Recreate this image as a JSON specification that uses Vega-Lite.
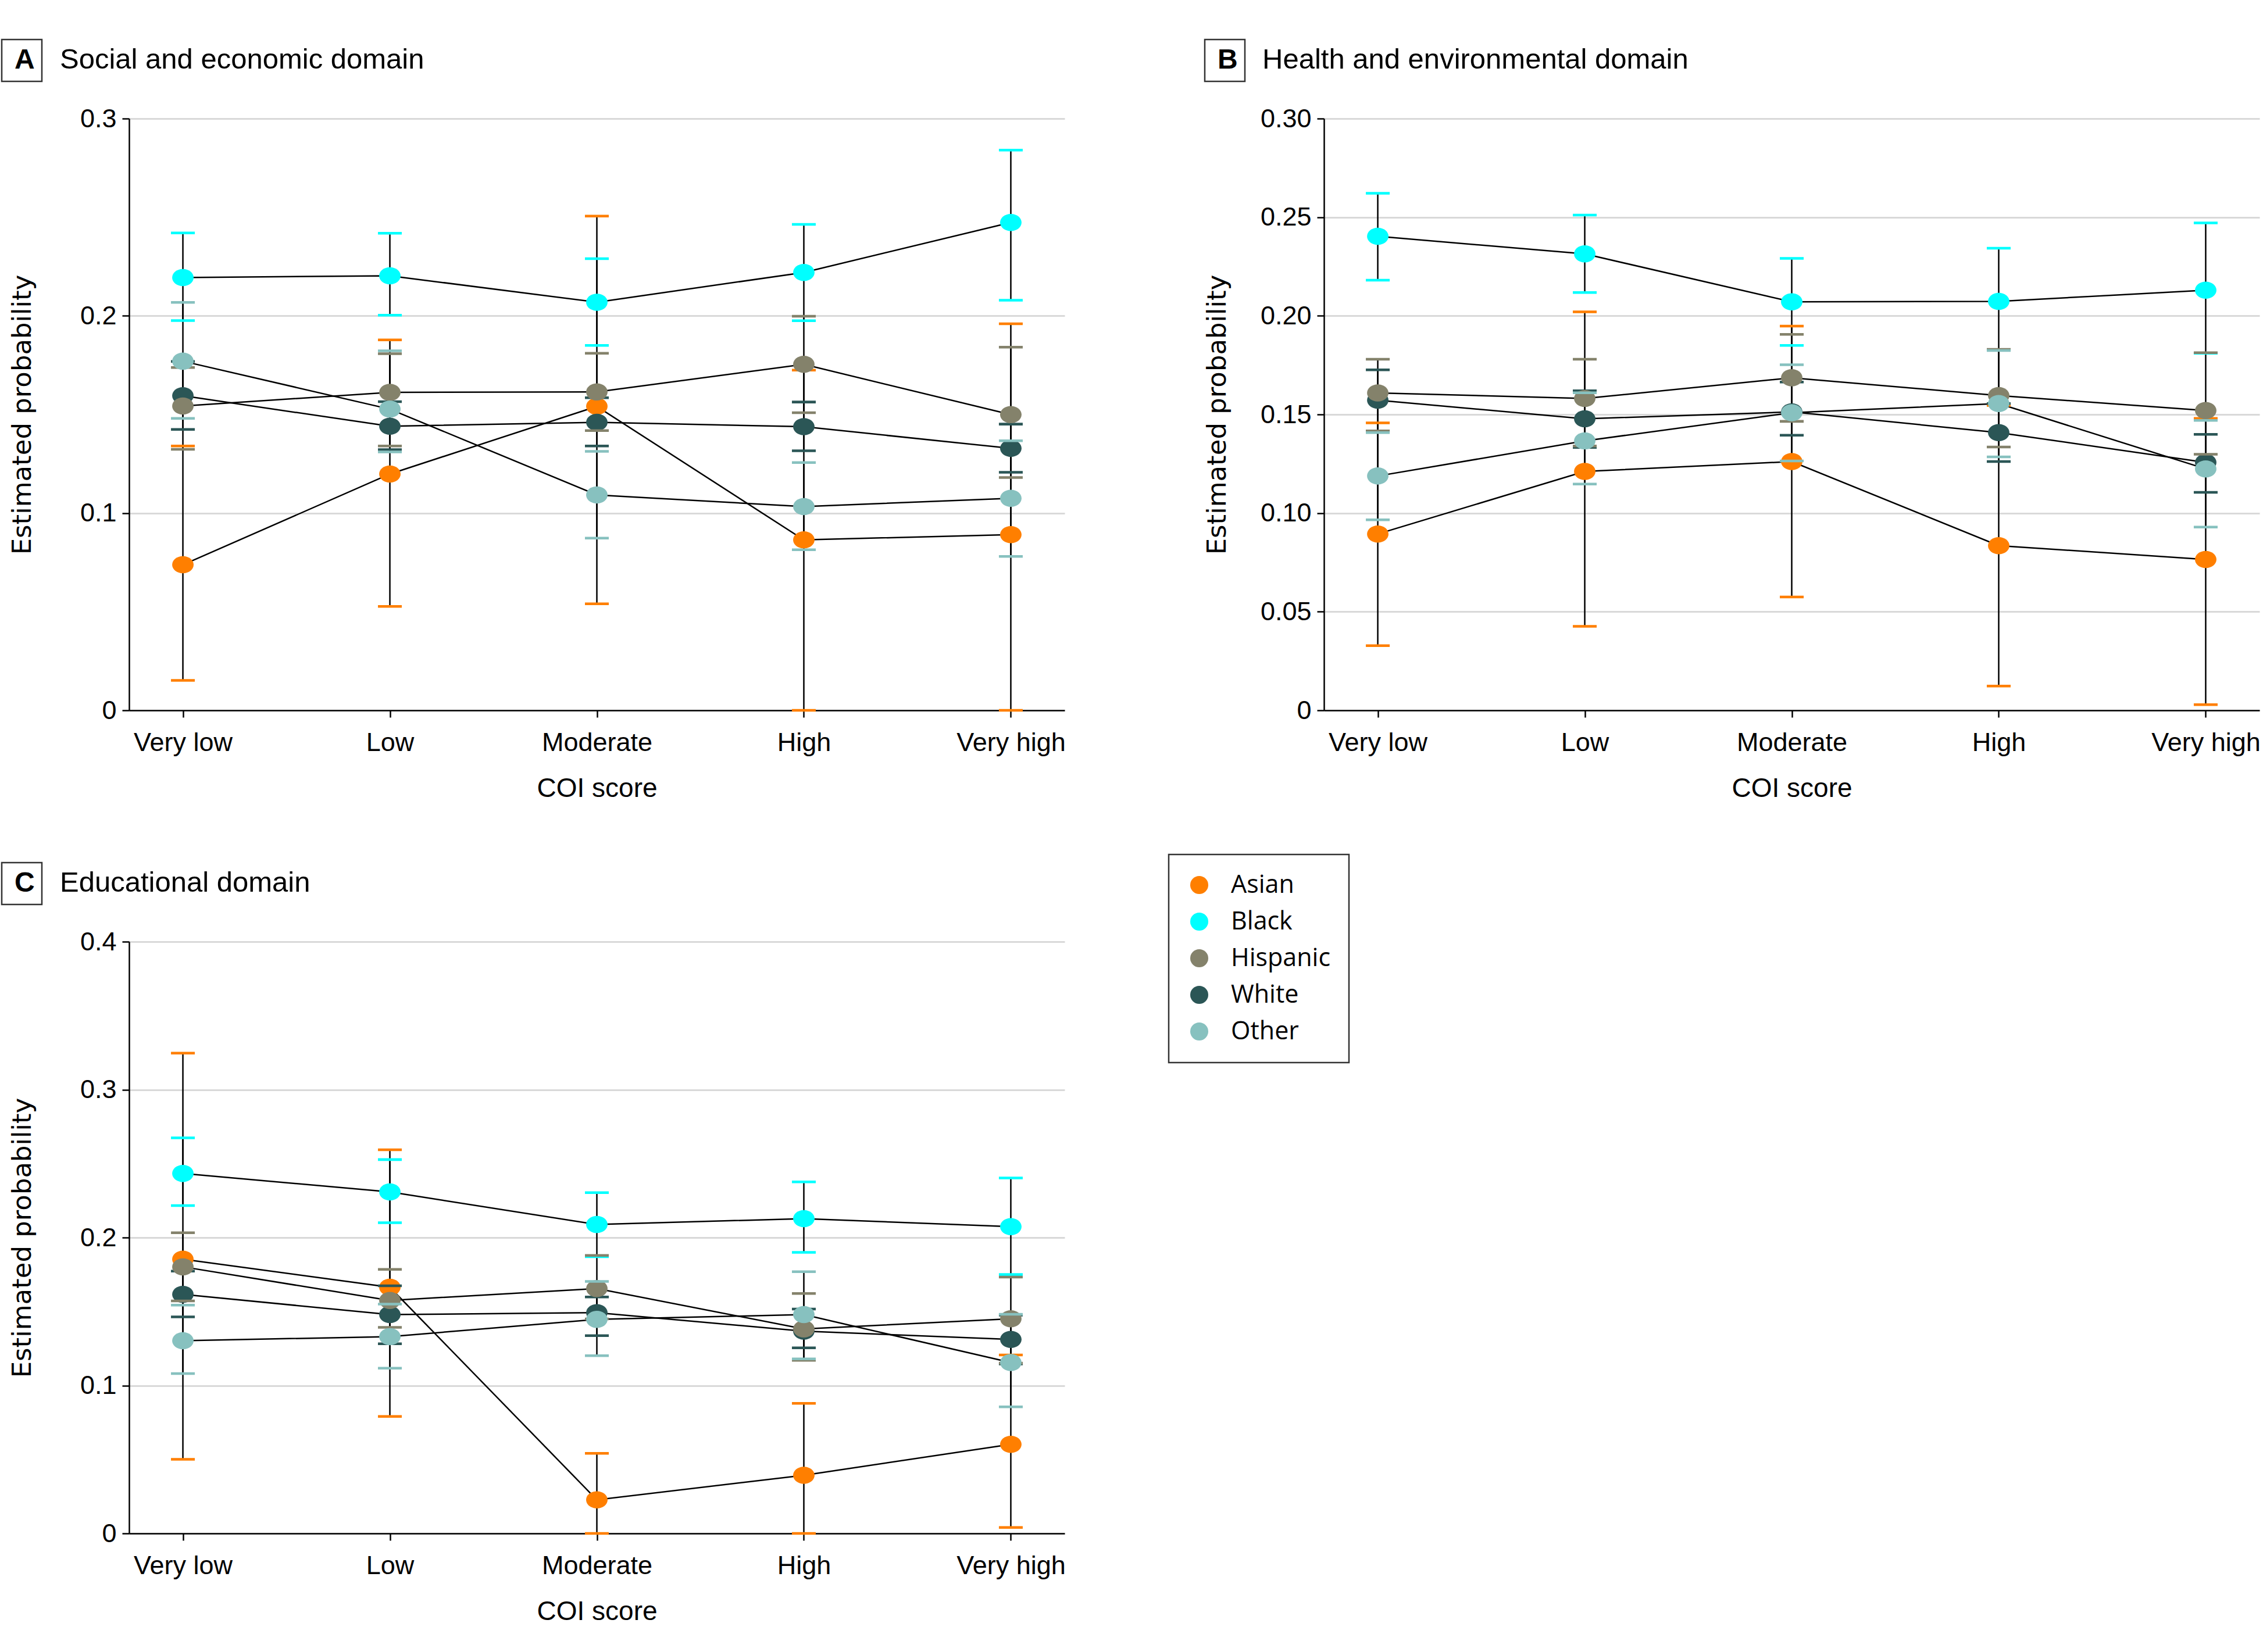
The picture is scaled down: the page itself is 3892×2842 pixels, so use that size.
{
  "$schema": "https://vega.github.io/schema/vega-lite/v6.json",
  "background": "white",
  "padding": {"left": 1, "top": 66, "right": 5, "bottom": 5},
  "config": {
    "font": "Liberation Sans, Arial, sans-serif",
    "view": {"stroke": null},
    "axis": {"labelFont": "Liberation Sans", "titleFont": "Liberation Sans", "labelLimit": 0, "domainColor": "#000", "domainWidth": 2.5, "tickColor": "#000", "tickWidth": 2.5, "tickSize": 12, "labelFontSize": 45, "labelColor": "#000", "titleColor": "#000", "titleFontWeight": "normal", "gridColor": "#d9d9d9", "gridWidth": 3, "zindex": 0},
    "axisX": {"grid": false, "labelAngle": 0, "labelPadding": 21, "titleFontSize": 46, "titlePadding": 34},
    "axisY": {"grid": true, "labelPadding": 10, "titleFont": "DejaVu Sans", "titleFontSize": 45, "titleX": -184, "titleY": 509, "titleAlign": "center", "titleBaseline": "middle", "titleAngle": -90},
    "title": {"anchor": "start", "frame": "group", "baseline": "alphabetic", "offset": -61, "font": "Liberation Sans", "fontSize": 49, "fontWeight": "normal", "color": "#000"},
    "legend": {"strokeWidth": 2.5, "labelLimit": 0}
  },
  "spacing": {"row": 103, "column": 237},
  "datasets": {
    "est": [
      {"panel":"A","race":"Asian","coi":"Very low","est":0.0738,"lo":0.0152,"hi":0.134},
      {"panel":"A","race":"Asian","coi":"Low","est":0.1198,"lo":0.0527,"hi":0.1878},
      {"panel":"A","race":"Asian","coi":"Moderate","est":0.1541,"lo":0.054,"hi":0.2506},
      {"panel":"A","race":"Asian","coi":"High","est":0.0864,"lo":0,"hi":0.1725},
      {"panel":"A","race":"Asian","coi":"Very high","est":0.0891,"lo":0,"hi":0.196},
      {"panel":"A","race":"Black","coi":"Very low","est":0.2194,"lo":0.1976,"hi":0.242},
      {"panel":"A","race":"Black","coi":"Low","est":0.2203,"lo":0.2003,"hi":0.2419},
      {"panel":"A","race":"Black","coi":"Moderate","est":0.2069,"lo":0.185,"hi":0.229},
      {"panel":"A","race":"Black","coi":"High","est":0.222,"lo":0.1975,"hi":0.2464},
      {"panel":"A","race":"Black","coi":"Very high","est":0.2473,"lo":0.2079,"hi":0.284},
      {"panel":"A","race":"White","coi":"Very low","est":0.1595,"lo":0.1424,"hi":0.1769},
      {"panel":"A","race":"White","coi":"Low","est":0.144,"lo":0.1322,"hi":0.1565},
      {"panel":"A","race":"White","coi":"Moderate","est":0.146,"lo":0.134,"hi":0.1585},
      {"panel":"A","race":"White","coi":"High","est":0.1438,"lo":0.1316,"hi":0.1563},
      {"panel":"A","race":"White","coi":"Very high","est":0.1328,"lo":0.1207,"hi":0.1451},
      {"panel":"A","race":"Hispanic","coi":"Very low","est":0.1543,"lo":0.1323,"hi":0.1738},
      {"panel":"A","race":"Hispanic","coi":"Low","est":0.1612,"lo":0.134,"hi":0.1808},
      {"panel":"A","race":"Hispanic","coi":"Moderate","est":0.1614,"lo":0.1418,"hi":0.181},
      {"panel":"A","race":"Hispanic","coi":"High","est":0.1754,"lo":0.1509,"hi":0.1998},
      {"panel":"A","race":"Hispanic","coi":"Very high","est":0.1499,"lo":0.118,"hi":0.1841},
      {"panel":"A","race":"Other","coi":"Very low","est":0.177,"lo":0.148,"hi":0.2068},
      {"panel":"A","race":"Other","coi":"Low","est":0.1527,"lo":0.131,"hi":0.1823},
      {"panel":"A","race":"Other","coi":"Moderate","est":0.1092,"lo":0.0873,"hi":0.1313},
      {"panel":"A","race":"Other","coi":"High","est":0.1033,"lo":0.0814,"hi":0.1256},
      {"panel":"A","race":"Other","coi":"Very high","est":0.1075,"lo":0.078,"hi":0.1367},

      {"panel":"B","race":"Asian","coi":"Very low","est":0.0894,"lo":0.0328,"hi":0.1457},
      {"panel":"B","race":"Asian","coi":"Low","est":0.1211,"lo":0.0426,"hi":0.202},
      {"panel":"B","race":"Asian","coi":"Moderate","est":0.1261,"lo":0.0575,"hi":0.1948},
      {"panel":"B","race":"Asian","coi":"High","est":0.0835,"lo":0.0123,"hi":0.1546},
      {"panel":"B","race":"Asian","coi":"Very high","est":0.0765,"lo":0.0029,"hi":0.148},
      {"panel":"B","race":"Black","coi":"Very low","est":0.2403,"lo":0.2181,"hi":0.2621},
      {"panel":"B","race":"Black","coi":"Low","est":0.2314,"lo":0.2118,"hi":0.2511},
      {"panel":"B","race":"Black","coi":"Moderate","est":0.2071,"lo":0.185,"hi":0.2291},
      {"panel":"B","race":"Black","coi":"High","est":0.2073,"lo":0.1827,"hi":0.2343},
      {"panel":"B","race":"Black","coi":"Very high","est":0.213,"lo":0.181,"hi":0.2471},
      {"panel":"B","race":"White","coi":"Very low","est":0.1572,"lo":0.1416,"hi":0.1726},
      {"panel":"B","race":"White","coi":"Low","est":0.1478,"lo":0.1333,"hi":0.162},
      {"panel":"B","race":"White","coi":"Moderate","est":0.1513,"lo":0.1395,"hi":0.1664},
      {"panel":"B","race":"White","coi":"High","est":0.1408,"lo":0.1261,"hi":0.1555},
      {"panel":"B","race":"White","coi":"Very high","est":0.1257,"lo":0.1105,"hi":0.1399},
      {"panel":"B","race":"Hispanic","coi":"Very low","est":0.1609,"lo":0.1417,"hi":0.178},
      {"panel":"B","race":"Hispanic","coi":"Low","est":0.1581,"lo":0.134,"hi":0.178},
      {"panel":"B","race":"Hispanic","coi":"Moderate","est":0.1686,"lo":0.1465,"hi":0.1906},
      {"panel":"B","race":"Hispanic","coi":"High","est":0.1596,"lo":0.1335,"hi":0.183},
      {"panel":"B","race":"Hispanic","coi":"Very high","est":0.152,"lo":0.1298,"hi":0.1813},
      {"panel":"B","race":"Other","coi":"Very low","est":0.1188,"lo":0.0966,"hi":0.1408},
      {"panel":"B","race":"Other","coi":"Low","est":0.1366,"lo":0.1147,"hi":0.161},
      {"panel":"B","race":"Other","coi":"Moderate","est":0.1509,"lo":0.1264,"hi":0.1752},
      {"panel":"B","race":"Other","coi":"High","est":0.1555,"lo":0.1285,"hi":0.1824},
      {"panel":"B","race":"Other","coi":"Very high","est":0.1224,"lo":0.0929,"hi":0.147},

      {"panel":"C","race":"Asian","coi":"Very low","est":0.1854,"lo":0.0501,"hi":0.3247},
      {"panel":"C","race":"Asian","coi":"Low","est":0.1664,"lo":0.0791,"hi":0.2593},
      {"panel":"C","race":"Asian","coi":"Moderate","est":0.0227,"lo":0,"hi":0.0541},
      {"panel":"C","race":"Asian","coi":"High","est":0.0393,"lo":0,"hi":0.0879},
      {"panel":"C","race":"Asian","coi":"Very high","est":0.0602,"lo":0.004,"hi":0.1206},
      {"panel":"C","race":"Black","coi":"Very low","est":0.2433,"lo":0.2216,"hi":0.2674},
      {"panel":"C","race":"Black","coi":"Low","est":0.2308,"lo":0.21,"hi":0.2527},
      {"panel":"C","race":"Black","coi":"Moderate","est":0.2088,"lo":0.187,"hi":0.2304},
      {"panel":"C","race":"Black","coi":"High","est":0.2128,"lo":0.19,"hi":0.2376},
      {"panel":"C","race":"Black","coi":"Very high","est":0.2074,"lo":0.175,"hi":0.2403},
      {"panel":"C","race":"White","coi":"Very low","est":0.1616,"lo":0.1464,"hi":0.1773},
      {"panel":"C","race":"White","coi":"Low","est":0.1479,"lo":0.1282,"hi":0.1674},
      {"panel":"C","race":"White","coi":"Moderate","est":0.1492,"lo":0.1337,"hi":0.1598},
      {"panel":"C","race":"White","coi":"High","est":0.1367,"lo":0.1254,"hi":0.1517},
      {"panel":"C","race":"White","coi":"Very high","est":0.1311,"lo":0.1145,"hi":0.1475},
      {"panel":"C","race":"Hispanic","coi":"Very low","est":0.1802,"lo":0.1572,"hi":0.2032},
      {"panel":"C","race":"Hispanic","coi":"Low","est":0.1575,"lo":0.1393,"hi":0.1785},
      {"panel":"C","race":"Hispanic","coi":"Moderate","est":0.1655,"lo":0.145,"hi":0.1879},
      {"panel":"C","race":"Hispanic","coi":"High","est":0.1382,"lo":0.117,"hi":0.1622},
      {"panel":"C","race":"Hispanic","coi":"Very high","est":0.1451,"lo":0.1151,"hi":0.1733},
      {"panel":"C","race":"Other","coi":"Very low","est":0.1303,"lo":0.1081,"hi":0.1543},
      {"panel":"C","race":"Other","coi":"Low","est":0.133,"lo":0.1117,"hi":0.155},
      {"panel":"C","race":"Other","coi":"Moderate","est":0.1447,"lo":0.1201,"hi":0.1703},
      {"panel":"C","race":"Other","coi":"High","est":0.1479,"lo":0.118,"hi":0.1769},
      {"panel":"C","race":"Other","coi":"Very high","est":0.1155,"lo":0.0856,"hi":0.1481}
    ]
  },
  "data": {"name": "est"},
  "columns": 2,
  "resolve": {"scale": {"strokeDash": "independent", "y": "independent", "x": "independent"}, "legend": {"strokeDash": "independent"}},
  "concat": [
    {
      "width": 1609, "height": 1018,
      "title": {"text": "Social and economic domain", "dx": -119},
      "transform": [{"filter": "datum.panel == 'A'"}],
      "encoding": {
        "x": {"field": "coi", "type": "ordinal", "sort": ["Very low","Low","Moderate","High","Very high"], "scale": {"type": "point", "padding": 0.26}, "title": "COI score"}
      },
      "layer": [
        {"mark": {"type": "rule", "color": "#000", "strokeWidth": 2.5},
         "encoding": {
           "y": {"field": "lo", "type": "quantitative", "title": "Estimated probability", "scale": {"domain": [0, 0.3], "nice": false, "zero": true}, "axis": {"values": [0, 0.1, 0.2, 0.3], "format": "~g"}},
           "y2": {"field": "hi"},
           "strokeDash": {"datum": "A", "type": "nominal", "legend": {"title": null, "orient": "none", "legendX": -219, "legendY": -136, "labelExpr": "datum.label + '\u2009'", "labelFont": "Liberation Sans", "labelFontWeight": "bold", "labelFontSize": 48, "labelColor": "#000", "symbolSize": 0, "symbolOpacity": 0, "symbolStrokeWidth": 0, "labelOffset": -38, "padding": 12, "strokeColor": "#333"}}
         }},
        {"mark": {"type": "line", "color": "#000", "strokeWidth": 2.5},
         "encoding": {
           "y": {"field": "est", "type": "quantitative", "title": "Estimated probability", "scale": {"domain": [0, 0.3], "nice": false, "zero": true}},
           "detail": {"field": "race"},
           "order": {"value": null}
         }},
        {"transform": [{"fold": ["lo", "hi", "est"], "as": ["part", "val"]}],
         "mark": {"type": "point", "filled": true, "opacity": 1, "size": 1681, "strokeWidth": 0},
         "encoding": {
           "y": {"field": "val", "type": "quantitative", "title": "Estimated probability", "scale": {"domain": [0, 0.3], "nice": false, "zero": true}},
           "color": {"field": "race", "type": "nominal", "scale": {"domain": ["Asian","Black","Hispanic","White","Other"], "range": ["#FF7F00","#00FFFF","#84826B","#2B5656","#87C1BF"]},
             "legend": {"title": null, "orient": "none", "legendX": 1788, "legendY": 1266, "symbolType": "circle", "symbolSize": 962, "symbolStrokeWidth": 0, "symbolOpacity": 1, "labelFont": "Open Sans", "labelFontSize": 43, "labelColor": "#000", "rowPadding": 19, "labelOffset": 33, "padding": 31, "strokeColor": "#333"}},
           "shape": {"field": "part", "type": "nominal", "scale": {"domain": ["est","lo","hi"], "range": ["M-0.9,0A0.9,0.72,0,1,0,0.9,0A0.9,0.72,0,1,0,-0.9,0Z", "M-1,-0.11L1,-0.11L1,0.11L-1,0.11Z", "M-1,-0.11L1,-0.11L1,0.11L-1,0.11Z"]}, "legend": null}
         }}
      ]
    },
    {
      "width": 1609, "height": 1018,
      "title": {"text": "Health and environmental domain", "dx": -106},
      "transform": [{"filter": "datum.panel == 'B'"}],
      "encoding": {
        "x": {"field": "coi", "type": "ordinal", "sort": ["Very low","Low","Moderate","High","Very high"], "scale": {"type": "point", "padding": 0.26}, "title": "COI score"}
      },
      "layer": [
        {"mark": {"type": "rule", "color": "#000", "strokeWidth": 2.5},
         "encoding": {
           "y": {"field": "lo", "type": "quantitative", "title": "Estimated probability", "scale": {"domain": [0, 0.3], "nice": false, "zero": true}, "axis": {"values": [0, 0.05, 0.1, 0.15, 0.2, 0.25, 0.3], "labelExpr": "datum.value == 0 ? '0' : format(datum.value, '.2f')"}},
           "y2": {"field": "hi"},
           "strokeDash": {"datum": "B", "type": "nominal", "legend": {"title": null, "orient": "none", "legendX": -205, "legendY": -136, "labelExpr": "datum.label + '\u2009'", "labelFont": "Liberation Sans", "labelFontWeight": "bold", "labelFontSize": 48, "labelColor": "#000", "symbolSize": 0, "symbolOpacity": 0, "symbolStrokeWidth": 0, "labelOffset": -38, "padding": 12, "strokeColor": "#333"}}
         }},
        {"mark": {"type": "line", "color": "#000", "strokeWidth": 2.5},
         "encoding": {
           "y": {"field": "est", "type": "quantitative", "title": "Estimated probability", "scale": {"domain": [0, 0.3], "nice": false, "zero": true}},
           "detail": {"field": "race"},
           "order": {"value": null}
         }},
        {"transform": [{"fold": ["lo", "hi", "est"], "as": ["part", "val"]}],
         "mark": {"type": "point", "filled": true, "opacity": 1, "size": 1681, "strokeWidth": 0},
         "encoding": {
           "y": {"field": "val", "type": "quantitative", "title": "Estimated probability", "scale": {"domain": [0, 0.3], "nice": false, "zero": true}},
           "color": {"field": "race", "type": "nominal", "scale": {"domain": ["Asian","Black","Hispanic","White","Other"], "range": ["#FF7F00","#00FFFF","#84826B","#2B5656","#87C1BF"]},
             "legend": {"title": null, "orient": "none", "legendX": 1788, "legendY": 1266, "symbolType": "circle", "symbolSize": 962, "symbolStrokeWidth": 0, "symbolOpacity": 1, "labelFont": "Open Sans", "labelFontSize": 43, "labelColor": "#000", "rowPadding": 19, "labelOffset": 33, "padding": 31, "strokeColor": "#333"}},
           "shape": {"field": "part", "type": "nominal", "scale": {"domain": ["est","lo","hi"], "range": ["M-0.9,0A0.9,0.72,0,1,0,0.9,0A0.9,0.72,0,1,0,-0.9,0Z", "M-1,-0.11L1,-0.11L1,0.11L-1,0.11Z", "M-1,-0.11L1,-0.11L1,0.11L-1,0.11Z"]}, "legend": null}
         }}
      ]
    },
    {
      "width": 1609, "height": 1018,
      "title": {"text": "Educational domain", "dx": -119},
      "transform": [{"filter": "datum.panel == 'C'"}],
      "encoding": {
        "x": {"field": "coi", "type": "ordinal", "sort": ["Very low","Low","Moderate","High","Very high"], "scale": {"type": "point", "padding": 0.26}, "title": "COI score"}
      },
      "layer": [
        {"mark": {"type": "rule", "color": "#000", "strokeWidth": 2.5},
         "encoding": {
           "y": {"field": "lo", "type": "quantitative", "title": "Estimated probability", "scale": {"domain": [0, 0.4], "nice": false, "zero": true}, "axis": {"values": [0, 0.1, 0.2, 0.3, 0.4], "format": "~g"}},
           "y2": {"field": "hi"},
           "strokeDash": {"datum": "C", "type": "nominal", "legend": {"title": null, "orient": "none", "legendX": -219, "legendY": -136, "labelExpr": "datum.label + '\u2009'", "labelFont": "Liberation Sans", "labelFontWeight": "bold", "labelFontSize": 48, "labelColor": "#000", "symbolSize": 0, "symbolOpacity": 0, "symbolStrokeWidth": 0, "labelOffset": -38, "padding": 12, "strokeColor": "#333"}}
         }},
        {"mark": {"type": "line", "color": "#000", "strokeWidth": 2.5},
         "encoding": {
           "y": {"field": "est", "type": "quantitative", "title": "Estimated probability", "scale": {"domain": [0, 0.4], "nice": false, "zero": true}},
           "detail": {"field": "race"},
           "order": {"value": null}
         }},
        {"transform": [{"fold": ["lo", "hi", "est"], "as": ["part", "val"]}],
         "mark": {"type": "point", "filled": true, "opacity": 1, "size": 1681, "strokeWidth": 0},
         "encoding": {
           "y": {"field": "val", "type": "quantitative", "title": "Estimated probability", "scale": {"domain": [0, 0.4], "nice": false, "zero": true}},
           "color": {"field": "race", "type": "nominal", "scale": {"domain": ["Asian","Black","Hispanic","White","Other"], "range": ["#FF7F00","#00FFFF","#84826B","#2B5656","#87C1BF"]},
             "legend": {"title": null, "orient": "none", "legendX": 1788, "legendY": 1266, "symbolType": "circle", "symbolSize": 962, "symbolStrokeWidth": 0, "symbolOpacity": 1, "labelFont": "Open Sans", "labelFontSize": 43, "labelColor": "#000", "rowPadding": 19, "labelOffset": 33, "padding": 31, "strokeColor": "#333"}},
           "shape": {"field": "part", "type": "nominal", "scale": {"domain": ["est","lo","hi"], "range": ["M-0.9,0A0.9,0.72,0,1,0,0.9,0A0.9,0.72,0,1,0,-0.9,0Z", "M-1,-0.11L1,-0.11L1,0.11L-1,0.11Z", "M-1,-0.11L1,-0.11L1,0.11L-1,0.11Z"]}, "legend": null}
         }}
      ]
    }
  ]
}
